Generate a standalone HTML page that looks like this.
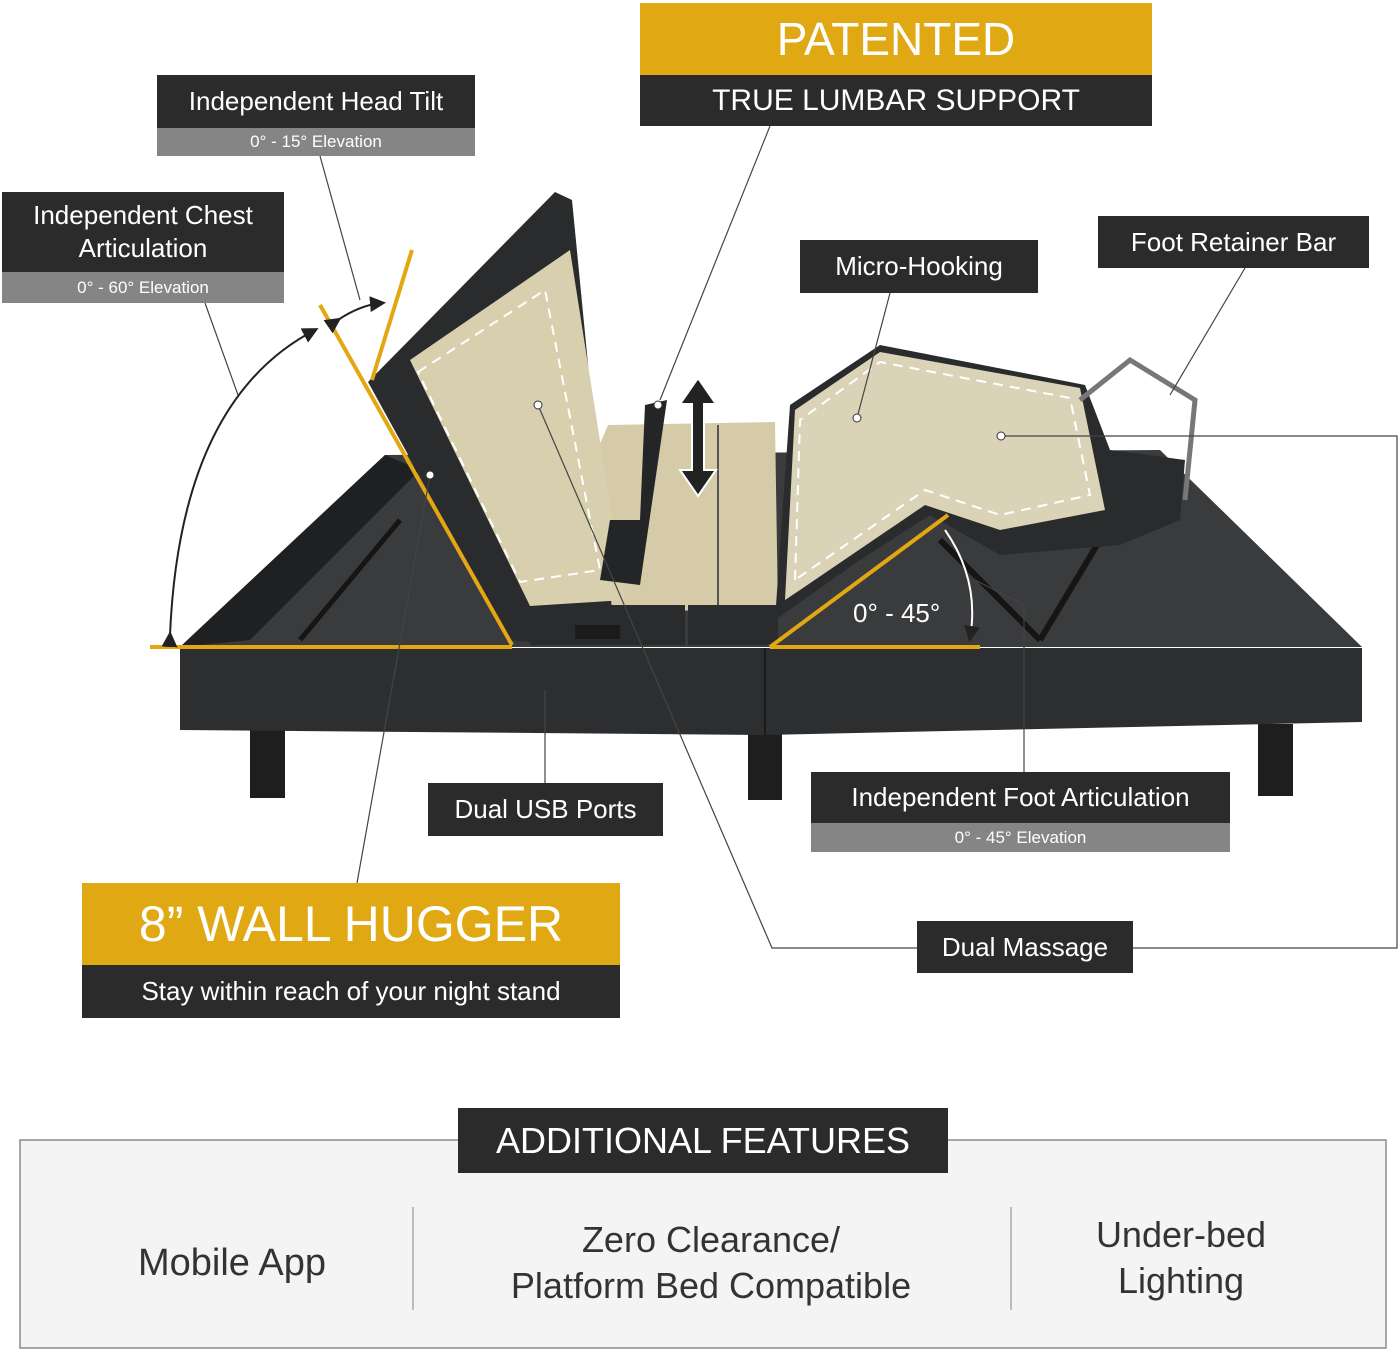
<!DOCTYPE html>
<html><head><meta charset="utf-8"><style>
body{margin:0;width:1400px;height:1351px;background:#fff;position:relative;overflow:hidden;font-family:"Liberation Sans",sans-serif}
.b{position:absolute;display:flex;align-items:center;justify-content:center;color:#fff;text-align:center;white-space:nowrap}
.d{background:#2b2b2c}.g{background:#858585}.y{background:#e0a914}
svg{position:absolute;left:0;top:0}
</style></head><body>
<svg width="1400" height="1351">
<defs><marker id="a" markerWidth="8" markerHeight="8" refX="6" refY="4" orient="auto"><path d="M0,0 L8,4 L0,8 Z" fill="#222"/></marker></defs>
<polygon points="180,647 1362,647 1160,450 385,455" fill="#3a3b3d"/>
<polygon points="180,647 230,600 385,455 420,470 250,640" fill="#1f2021"/>
<line x1="940" y1="540" x2="1040" y2="640" stroke="#151515" stroke-width="6"/>
<line x1="1100" y1="540" x2="1040" y2="640" stroke="#151515" stroke-width="6"/>
<line x1="400" y1="520" x2="300" y2="640" stroke="#151515" stroke-width="5"/>
<rect x="250" y="728" width="35" height="70" fill="#1e1e1e"/>
<rect x="748" y="728" width="34" height="72" fill="#1e1e1e"/>
<rect x="1258" y="724" width="35" height="72" fill="#1e1e1e"/>
<polygon points="180,648 1362,648 1362,722 765,735 180,730" fill="#2d2e30"/>
<line x1="765" y1="648" x2="765" y2="735" stroke="#1a1a1a" stroke-width="2"/>
<!-- middle -->
<polygon points="608,425 775,422 778,612 530,608" fill="#d5cba8"/>
<rect x="530" y="605" width="155" height="40" fill="#2a2b2d"/>
<rect x="688" y="605" width="90" height="40" fill="#2a2b2d"/>
<line x1="718" y1="425" x2="718" y2="605" stroke="#555" stroke-width="2"/>
<!-- head section -->
<polygon points="368,382 555,192 572,200 612,610 530,642 510,640" fill="#2a2b2d"/>
<polygon points="410,360 570,250 625,600 530,606" fill="#d8cfae"/>
<polygon points="418,372 545,290 600,570 520,582" fill="none" stroke="#fff" stroke-width="2" stroke-dasharray="10,7"/>
<polygon points="645,405 667,400 640,585 600,580 610,520 640,520" fill="#242526"/>
<rect x="575" y="625" width="45" height="14" fill="#1a1a1a"/>
<path d="M698 378 L716 404 L704 404 L704 470 L716 470 L698 496 L680 470 L692 470 L692 404 L680 404 Z" fill="#222" stroke="#fff" stroke-width="2"/>
<!-- foot section -->
<polygon points="775,620 790,405 880,345 1085,385 1110,450 1185,460 1180,520 1120,545 1000,555 930,515 860,560" fill="#2a2b2d"/>
<polygon points="785,600 795,410 880,352 1080,388 1105,510 1000,530 925,505 800,590" fill="#dad3b8"/>
<polygon points="795,580 800,420 880,362 1070,398 1090,495 1000,515 925,490" fill="none" stroke="#fff" stroke-width="2" stroke-dasharray="10,7"/>
<path d="M1080 400 L1130 360 L1195 400 L1185 500" fill="none" stroke="#777" stroke-width="5"/>
<g stroke="#e3a714" stroke-width="4" fill="none">
<line x1="150" y1="647" x2="512" y2="647"/>
<line x1="320" y1="305" x2="512" y2="645"/>
<line x1="412" y1="250" x2="372" y2="380"/>
<line x1="770" y1="647" x2="980" y2="647"/>
<line x1="770" y1="647" x2="948" y2="515"/>
</g>
<g stroke="#222" stroke-width="2" fill="none">
<path d="M170 635 Q180 400 315 330" marker-start="url(#a)" marker-end="url(#a)"/>
<path d="M338 320 Q360 305 382 303" marker-start="url(#a)" marker-end="url(#a)"/>
<path d="M945 530 Q980 580 970 638" stroke="#fff" marker-end="url(#a)"/>
</g>
<text x="853" y="622" fill="#fff" font-size="26" font-family="Liberation Sans">0° - 45°</text>
<g stroke="#444" stroke-width="1.2" fill="none">
<line x1="320" y1="156" x2="360" y2="300"/>
<line x1="205" y1="303" x2="238" y2="395"/>
<line x1="770" y1="126" x2="660" y2="400"/>
<line x1="890" y1="293" x2="857" y2="418"/>
<line x1="1245" y1="268" x2="1170" y2="395"/>
<polyline points="1001,436 1397,436 1397,948 1133,948"/>
<polyline points="917,948 772,948 538,405"/>
<line x1="545" y1="783" x2="545" y2="690"/>
<polyline points="1024,772 1024,605 975,580"/>
<line x1="357" y1="883" x2="430" y2="475"/>
</g>
<g fill="#fff" stroke="#333"><circle cx="538" cy="405" r="4"/><circle cx="430" cy="475" r="4"/><circle cx="857" cy="418" r="4"/><circle cx="1001" cy="436" r="4"/><circle cx="658" cy="405" r="4"/></g>
<rect x="20" y="1140" width="1366" height="208" fill="#f4f4f4" stroke="#8a8a8a" stroke-width="1.5"/>
<line x1="413" y1="1207" x2="413" y2="1310" stroke="#aaa" stroke-width="1.5"/>
<line x1="1011" y1="1207" x2="1011" y2="1310" stroke="#aaa" stroke-width="1.5"/>
</svg>
<div class="b y" style="left:640px;top:3px;width:512px;height:72px;font-size:46px">PATENTED</div>
<div class="b d" style="left:640px;top:75px;width:512px;height:51px;font-size:30px">TRUE LUMBAR SUPPORT</div>
<div class="b d" style="left:157px;top:75px;width:318px;height:53px;font-size:26px">Independent Head Tilt</div>
<div class="b g" style="left:157px;top:128px;width:318px;height:28px;font-size:17px">0° - 15° Elevation</div>
<div class="b d" style="left:2px;top:192px;width:282px;height:80px;font-size:26px;line-height:33px;white-space:normal">Independent Chest<br>Articulation</div>
<div class="b g" style="left:2px;top:272px;width:282px;height:31px;font-size:17px">0° - 60° Elevation</div>
<div class="b d" style="left:800px;top:240px;width:238px;height:53px;font-size:26px">Micro-Hooking</div>
<div class="b d" style="left:1098px;top:216px;width:271px;height:52px;font-size:26px">Foot Retainer Bar</div>
<div class="b d" style="left:428px;top:783px;width:235px;height:53px;font-size:26px">Dual USB Ports</div>
<div class="b d" style="left:811px;top:772px;width:419px;height:51px;font-size:26px">Independent Foot Articulation</div>
<div class="b g" style="left:811px;top:823px;width:419px;height:29px;font-size:17px">0° - 45° Elevation</div>
<div class="b y" style="left:82px;top:883px;width:538px;height:82px;font-size:50px">8” WALL HUGGER</div>
<div class="b d" style="left:82px;top:965px;width:538px;height:53px;font-size:26px">Stay within reach of your night stand</div>
<div class="b d" style="left:917px;top:921px;width:216px;height:52px;font-size:26px">Dual Massage</div>
<div class="b d" style="left:458px;top:1108px;width:490px;height:65px;font-size:36px">ADDITIONAL FEATURES</div>
<div class="b" style="left:40px;top:1235px;width:384px;height:56px;font-size:38px;color:#333">Mobile App</div>
<div class="b" style="left:420px;top:1215px;width:582px;height:95px;font-size:36px;line-height:46px;color:#333;white-space:normal">Zero Clearance/<br>Platform Bed Compatible</div>
<div class="b" style="left:1011px;top:1210px;width:340px;height:95px;font-size:36px;line-height:46px;color:#333;white-space:normal">Under-bed<br>Lighting</div>
</body></html>
